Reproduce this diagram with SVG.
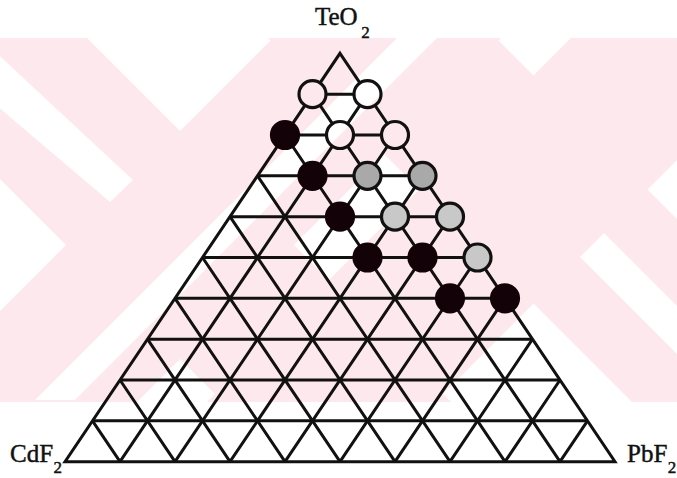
<svg xmlns="http://www.w3.org/2000/svg" width="677" height="478" viewBox="0 0 677 478">
<defs>
<style>
.lbl{font-family:"Liberation Serif","Times New Roman",serif;font-size:25px;fill:#111;stroke:#111;stroke-width:0.45}
.sub{font-size:17px}
.grid{fill:none;stroke:#111;stroke-width:3}
.w{fill:none;stroke:#111;stroke-width:3.2}
.g1{fill:#a9a9a9;stroke:#111;stroke-width:3.2}
.g2{fill:#c8c8c8;stroke:#111;stroke-width:3.2}
.b{fill:#130208;stroke:#130208;stroke-width:3.2}
.pk{fill:#fde9ed}
.wh{fill:#ffffff}
</style>
<clipPath id="wm"><rect x="0" y="38" width="677" height="364"/></clipPath>
<mask id="holes" maskUnits="userSpaceOnUse" x="0" y="0" width="677" height="478">
<rect x="0" y="0" width="677" height="478" fill="#fff"/>
<circle cx="312.5" cy="94.14" r="13.5" fill="#000"/>
<circle cx="367.5" cy="94.14" r="13.5" fill="#000"/>
<circle cx="340" cy="134.98" r="13.5" fill="#000"/>
<circle cx="395" cy="134.98" r="13.5" fill="#000"/>
</mask>
</defs>
<rect x="0" y="0" width="677" height="478" fill="#ffffff"/>
<g id="watermark" clip-path="url(#wm)">
<polygon class="pk" points="411,-100 639,-100 39,500 -189,500"/>
<polygon class="pk" points="-51,-100 549,500 321,500 -279,-100"/>
<polygon class="pk" points="709,-100 937,-100 337,500 109,500"/>
<polygon class="pk" points="358,-100 958,500 730,500 130,-100"/>
<polygon class="wh" points="-10,47 133,180 110,202 -10,100"/>
<polygon class="wh" points="604,233 700,329 700,377 580,257"/>
<polygon class="wh" points="445,-10 485,-10 75,400 35,400"/>
</g>
<g id="connectors" mask="url(#holes)">
<path class="grid" d="M312.5,94.14H367.5M285,134.98H395M257.5,175.82H422.5M230,216.66H450M202.5,257.5H477.5M175,298.34H505M147.5,339.18H532.5M120,380.02H560M92.5,420.86H587.5"/>
<path class="grid" d="M367.5,94.14L120,461.7M395,134.98L175,461.7M422.5,175.82L230,461.7M450,216.66L285,461.7M477.5,257.5L340,461.7M505,298.34L395,461.7M532.5,339.18L450,461.7M560,380.02L505,461.7M587.5,420.86L560,461.7"/>
<path class="grid" d="M312.5,94.14L560,461.7M285,134.98L505,461.7M257.5,175.82L450,461.7M230,216.66L395,461.7M202.5,257.5L340,461.7M175,298.34L285,461.7M147.5,339.18L230,461.7M120,380.02L175,461.7M92.5,420.86L120,461.7"/>
<polygon class="grid" stroke-linejoin="miter" stroke-miterlimit="10" points="340,53.3 615,461.7 65,461.7"/>
</g>
<g id="n1-0"><circle class="w" cx="312.5" cy="94.14" r="13.5"/></g>
<g id="n1-1"><circle class="w" cx="367.5" cy="94.14" r="13.5"/></g>
<g id="n2-0"><circle class="b" cx="285" cy="134.98" r="13.5"/></g>
<g id="n2-1"><circle class="w" cx="340" cy="134.98" r="13.5"/></g>
<g id="n2-2"><circle class="w" cx="395" cy="134.98" r="13.5"/></g>
<g id="n3-1"><circle class="b" cx="312.5" cy="175.82" r="13.5"/></g>
<g id="n3-2"><circle class="g1" cx="367.5" cy="175.82" r="13.5"/></g>
<g id="n3-3"><circle class="g1" cx="422.5" cy="175.82" r="13.5"/></g>
<g id="n4-2"><circle class="b" cx="340" cy="216.66" r="13.5"/></g>
<g id="n4-3"><circle class="g2" cx="395" cy="216.66" r="13.5"/></g>
<g id="n4-4"><circle class="g2" cx="450" cy="216.66" r="13.5"/></g>
<g id="n5-3"><circle class="b" cx="367.5" cy="257.5" r="13.5"/></g>
<g id="n5-4"><circle class="b" cx="422.5" cy="257.5" r="13.5"/></g>
<g id="n5-5"><circle class="g2" cx="477.5" cy="257.5" r="13.5"/></g>
<g id="n6-5"><circle class="b" cx="450" cy="298.34" r="13.5"/></g>
<g id="n6-6"><circle class="b" cx="505" cy="298.34" r="13.5"/></g>
<g id="label-teo2"><text class="lbl" x="315" y="25">TeO<tspan class="sub" dx="3.5" dy="13">2</tspan></text></g>
<g id="label-cdf2"><text class="lbl" x="10" y="461.7">CdF<tspan class="sub" dx="0.5" dy="11.3">2</tspan></text></g>
<g id="label-pbf2"><text class="lbl" x="627" y="461.7">PbF<tspan class="sub" dx="0.5" dy="11.3">2</tspan></text></g>
</svg>
